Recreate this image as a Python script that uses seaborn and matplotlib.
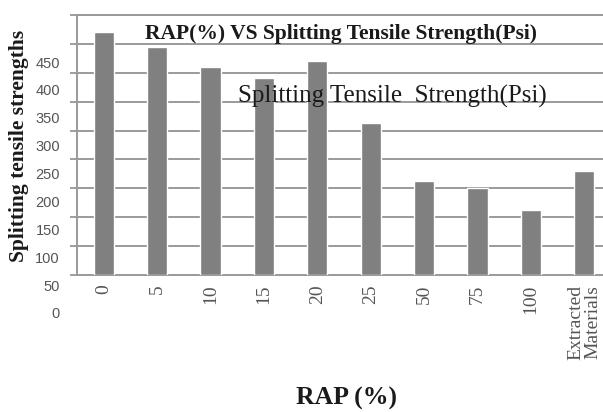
import matplotlib
matplotlib.use("Agg")
import matplotlib.pyplot as plt
import seaborn as sns
import pandas as pd

# Data
rap_labels = ["0", "5", "10", "15", "20", "25", "50", "75", "100", "Extracted\nMaterials"]
strength = [420, 394, 360, 341, 370, 263, 163, 150, 112, 180]
y_tick_values = [0, 50, 100, 150, 200, 250, 300, 350, 400, 450]

df = pd.DataFrame({"rap": rap_labels, "strength": strength})

sns.set_style("white")
plt.rcParams["font.family"] = ["Liberation Serif", "DejaVu Serif"]

fig = plt.figure(figsize=(6.03, 4.12), dpi=100)

# main plot area (runs off the right edge like the reference crop)
ax = fig.add_axes([0.1277, 0.3325, 0.8856, 0.6311])
sns.barplot(data=df, x="rap", y="strength", color="#808080", saturation=1,
            width=0.38, ax=ax, zorder=3)
ax.set_ylim(0, 450)
ax.set_xlim(-0.5, len(rap_labels) - 0.5)
ax.set_yticks(y_tick_values)
ax.set_yticklabels([])
ax.tick_params(axis="y", length=5, width=1.2, color="#8c8c8c", direction="out", left=True)
ax.tick_params(axis="x", length=0, labelsize=14, labelcolor="#555555", rotation=90, pad=7)
for lab in ax.get_xticklabels():
    lab.set_verticalalignment("top")
    lab.set_linespacing(1.0)
ax.grid(axis="y", color="#9a9a9a", linewidth=1.4, zorder=0)
ax.set_axisbelow(True)
for side in ["left", "bottom", "top"]:
    ax.spines[side].set_color("#9a9a9a")
    ax.spines[side].set_linewidth(1.4)
ax.spines["right"].set_visible(False)
ax.set_xlabel("")
ax.set_ylabel("")

# y tick labels sit lower than the gridlines in the reference
lab_ax = fig.add_axes([0.0995, 0.2403, 0.0001, 0.6092])
lab_ax.set_ylim(0, 450)
lab_ax.set_yticks(y_tick_values)
lab_ax.set_yticklabels([str(v) for v in y_tick_values], family="Liberation Sans",
                       fontsize=10.5, color="#555555")
lab_ax.tick_params(axis="y", length=0, pad=0)
lab_ax.set_xticks([])
for s in lab_ax.spines.values():
    s.set_visible(False)
lab_ax.patch.set_alpha(0)

# titles
ax.text(0.494, 0.927, "RAP(%) VS Splitting Tensile Strength(Psi)", transform=ax.transAxes,
        ha="center", va="center", fontsize=15.5, fontweight="bold", color="#1a1a1a", zorder=5)
ax.text(0.590, 0.685, "Splitting Tensile  Strength(Psi)", transform=ax.transAxes,
        ha="center", va="center", fontsize=18, color="#1a1a1a", zorder=5)

fig.text(0.031, 0.645, "Splitting tensile strengths", rotation=90, ha="center", va="center",
         fontsize=15.5, fontweight="bold", color="#1a1a1a")
fig.text(0.574, 0.034, "RAP (%)", ha="center", va="center",
         fontsize=18.5, fontweight="bold", color="#1a1a1a")

fig.savefig("out.png", dpi=100)
